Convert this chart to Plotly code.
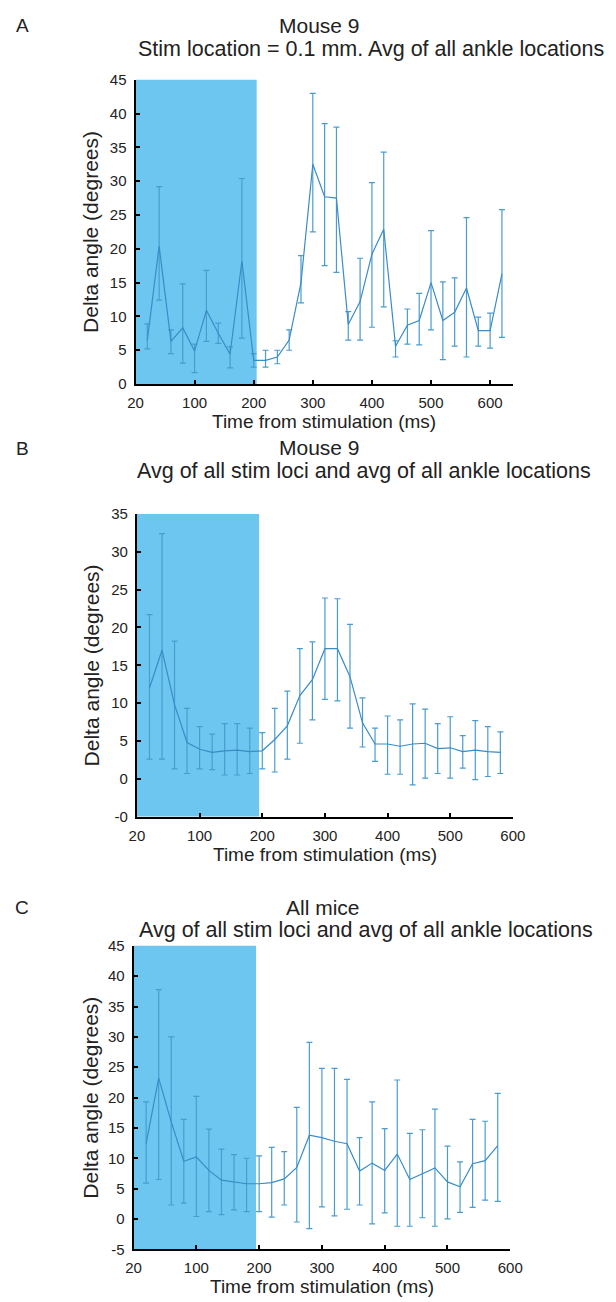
import plotly.graph_objects as go

W, H = 616, 1302

# ---------------- data ----------------
# Panel A: Mouse 9, stim location 0.1 mm
a_time = [20, 40, 60, 80, 100, 120, 140, 160, 180, 200, 220, 240, 260, 280, 300, 320,
          340, 360, 380, 400, 420, 440, 460, 480, 500, 520, 540, 560, 580, 600, 620]
a_mean = [6.5, 20.4, 6.3, 8.3, 4.9, 10.9, 7.5, 4.4, 18.2, 3.5, 3.5, 4.0, 6.5, 15.0, 32.5, 27.7,
          27.5, 8.8, 12.2, 19.2, 22.9, 5.6, 8.7, 9.4, 15.0, 9.4, 10.6, 14.2, 7.9, 7.9, 16.3]
a_upper = [8.9, 29.2, 8.0, 14.8, 5.9, 16.8, 9.0, 5.5, 30.4, 4.5, 5.0, 5.0, 8.0, 19.0, 43.0, 38.5,
           38.0, 10.7, 18.6, 29.8, 34.3, 6.4, 11.1, 13.4, 22.7, 15.1, 15.7, 24.6, 9.9, 10.5, 25.8]
a_lower = [5.2, 12.4, 4.5, 3.1, 1.7, 6.3, 6.0, 2.4, 6.8, 2.5, 2.5, 3.0, 5.0, 12.0, 22.5, 17.5,
           16.5, 6.5, 6.5, 8.4, 11.4, 4.0, 5.9, 5.8, 8.0, 3.6, 5.6, 4.0, 5.6, 5.3, 6.9]

# Panel B: Mouse 9, avg of all stim loci
b_time = [20, 40, 60, 80, 100, 120, 140, 160, 180, 200, 220, 240, 260, 280, 300, 320,
          340, 360, 380, 400, 420, 440, 460, 480, 500, 520, 540, 560, 580]
b_mean = [12.0, 17.0, 9.8, 4.8, 3.9, 3.5, 3.7, 3.8, 3.6, 3.7, 5.2, 7.0, 11.0, 13.1, 17.2, 17.2,
          13.5, 7.4, 4.6, 4.6, 4.3, 4.6, 4.7, 4.0, 4.1, 3.6, 3.8, 3.6, 3.5]
b_upper = [21.7, 32.4, 18.2, 9.3, 6.9, 5.9, 7.3, 7.3, 6.7, 6.1, 9.3, 11.6, 17.2, 18.1, 23.9, 23.8,
           20.4, 10.7, 6.7, 8.3, 7.8, 9.9, 9.2, 7.3, 8.2, 5.7, 7.7, 6.9, 6.2]
b_lower = [2.6, 2.6, 1.3, 0.7, 1.3, 1.2, 0.5, 0.5, 0.7, 1.3, 0.9, 2.6, 4.7, 7.8, 10.5, 10.3,
           6.7, 4.2, 2.3, 0.6, 0.6, -0.8, 0.1, 0.7, 0.1, 1.4, -0.1, 0.3, 0.7]

# Panel C: all mice
c_time = b_time
c_mean = [12.4, 23.2, 16.0, 9.5, 10.2, 8.0, 6.4, 6.1, 5.8, 5.8, 6.0, 6.6, 8.5, 13.8, 13.4, 12.8,
          12.4, 7.9, 9.2, 8.0, 10.7, 6.5, 7.5, 8.4, 6.1, 5.3, 9.1, 9.6, 12.1]
c_upper = [19.3, 37.8, 30.0, 16.4, 20.2, 14.8, 11.5, 10.6, 10.0, 10.4, 11.8, 11.1, 18.4, 29.1, 24.8, 24.8,
           23.0, 13.4, 19.3, 14.9, 22.9, 14.1, 14.7, 18.1, 12.0, 9.4, 16.4, 16.1, 20.7]
c_lower = [5.9, 6.5, 2.3, 2.6, 0.4, 1.2, 0.7, 1.5, 1.2, 1.2, 0.3, 2.3, -0.5, -1.6, 2.0, 0.5,
           1.6, 2.3, -0.8, 1.0, -1.2, -1.2, 0.2, -1.2, 0.0, 1.1, 1.9, 3.1, 2.9]

x_tickvals = [0, 100, 200, 300, 400, 500, 600]
x_ticktext = ["20", "100", "200", "300", "400", "500", "600"]
a_ytickvals = [0, 5, 10, 15, 20, 25, 30, 35, 40, 45]
a_yticktext = ["0", "5", "10", "15", "20", "25", "30", "35", "40", "45"]
b_ytickvals = [-5, 0, 5, 10, 15, 20, 25, 30, 35]
b_yticktext = ["-0", "0", "5", "10", "15", "20", "25", "30", "35"]
c_ytickvals = [-5, 0, 5, 10, 15, 20, 25, 30, 35, 40, 45]
c_yticktext = ["-5", "0", "5", "10", "15", "20", "25", "30", "35", "40", "45"]

stim_end = [205, 195, 195]

# --------------- styling ---------------
FONT = "Liberation Sans, Arial, sans-serif"
LINE_C = "#3a8cc6"
ERR_C = "#4a9ccf"
SHADE = "#6cc6ef"

def px2x(p):
    return p / W

def px2y(p):
    return 1 - p / H

panels = [
    dict(t=a_time, m=a_mean, u=a_upper, l=a_lower, xd=(132, 523), yd=(71.7, 380), xr=(0, 639), yr=(0, 45),
         yv=a_ytickvals, yt=a_yticktext),
    dict(t=b_time, m=b_mean, u=b_upper, l=b_lower, xd=(133.5, 522.7), yd=(511.7, 818.3), xr=(0, 600), yr=(-5, 35),
         yv=b_ytickvals, yt=b_yticktext),
    dict(t=c_time, m=c_mean, u=c_upper, l=c_lower, xd=(130, 520), yd=(949.25, 1256.7), xr=(0, 600), yr=(-5, 45),
         yv=c_ytickvals, yt=c_yticktext),
]

fig = go.Figure()
layout = dict(width=W, height=H, margin=dict(l=0, r=0, t=0, b=0), plot_bgcolor="white",
              paper_bgcolor="white", showlegend=False, font=dict(family=FONT, color="#222"))
shapes = []
annotations = []

for i, p in enumerate(panels):
    n = i + 1
    xa = "x" if n == 1 else f"x{n}"
    ya = "y" if n == 1 else f"y{n}"
    plus = [u - m for u, m in zip(p["u"], p["m"])]
    minus = [m - l for m, l in zip(p["m"], p["l"])]
    fig.add_trace(go.Scatter(
        x=p["t"], y=p["m"], mode="lines", xaxis=xa, yaxis=ya,
        line=dict(color=LINE_C, width=1.2),
        error_y=dict(type="data", symmetric=False, array=plus, arrayminus=minus,
                     color=ERR_C, thickness=1.2, width=3),
    ))
    layout["xaxis" if n == 1 else f"xaxis{n}"] = dict(
        domain=[px2x(p["xd"][0]), px2x(p["xd"][1])], range=list(p["xr"]),
        anchor=ya, showgrid=False, zeroline=False, showline=True, linecolor="black", linewidth=2,
        ticks="inside", ticklen=4, tickwidth=1.5, tickcolor="black",
        tickvals=x_tickvals, ticktext=x_ticktext, tickfont=dict(size=15, color="#222"),
        ticklabelstandoff=4,
    )
    layout["yaxis" if n == 1 else f"yaxis{n}"] = dict(
        domain=[px2y(p["yd"][1]), px2y(p["yd"][0])], range=list(p["yr"]),
        anchor=xa, showgrid=False, zeroline=False, showline=True, linecolor="black", linewidth=2,
        ticks="inside", ticklen=4, tickwidth=1.5, tickcolor="black",
        tickvals=p["yv"], ticktext=p["yt"], tickfont=dict(size=15, color="#222"),
        ticklabelstandoff=4,
    )
    shapes.append(dict(type="rect", xref=xa, yref=f"{ya} domain", x0=0, x1=stim_end[i], y0=0, y1=1,
                       fillcolor=SHADE, line=dict(width=0), layer="below"))
    # axis titles
    annotations.append(dict(text="Time from stimulation (ms)", xref="paper", yref="paper",
                            x=px2x((p["xd"][0] + p["xd"][1]) / 2), y=px2y(p["yd"][1] + 38),
                            showarrow=False, font=dict(size=19), xanchor="center", yanchor="middle"))
    annotations.append(dict(text="Delta angle (degrees)", xref="paper", yref="paper",
                            x=px2x(86), y=px2y((p["yd"][0] + p["yd"][1]) / 2), textangle=-90,
                            showarrow=False, font=dict(size=21), xanchor="center", yanchor="middle"))

titles = [
    ("A", 15, 17, "Mouse 9", 322, 17, "Stim location = 0.1 mm. Avg of all ankle locations", 376, 41),
    ("B", 15, 445, "Mouse 9", 322, 444, "Avg of all stim loci and avg of all ankle locations", 369, 468),
    ("C", 15, 910, "All mice", 326, 910, "Avg of all stim loci and avg of all ankle locations", 371, 933),
]
for letter, lx, ly, t1, t1x, t1y, t2, t2x, t2y in titles:
    annotations.append(dict(text=letter, xref="paper", yref="paper", x=px2x(lx), y=px2y(ly),
                            showarrow=False, font=dict(size=19), xanchor="center", yanchor="middle"))
    annotations.append(dict(text=t1, xref="paper", yref="paper", x=px2x(t1x), y=px2y(t1y),
                            showarrow=False, font=dict(size=21), xanchor="center", yanchor="middle"))
    annotations.append(dict(text=t2, xref="paper", yref="paper", x=px2x(t2x), y=px2y(t2y),
                            showarrow=False, font=dict(size=21.5), xanchor="center", yanchor="middle"))

layout["shapes"] = shapes
layout["annotations"] = annotations
fig.update_layout(**layout)
fig.write_html("out.html")
